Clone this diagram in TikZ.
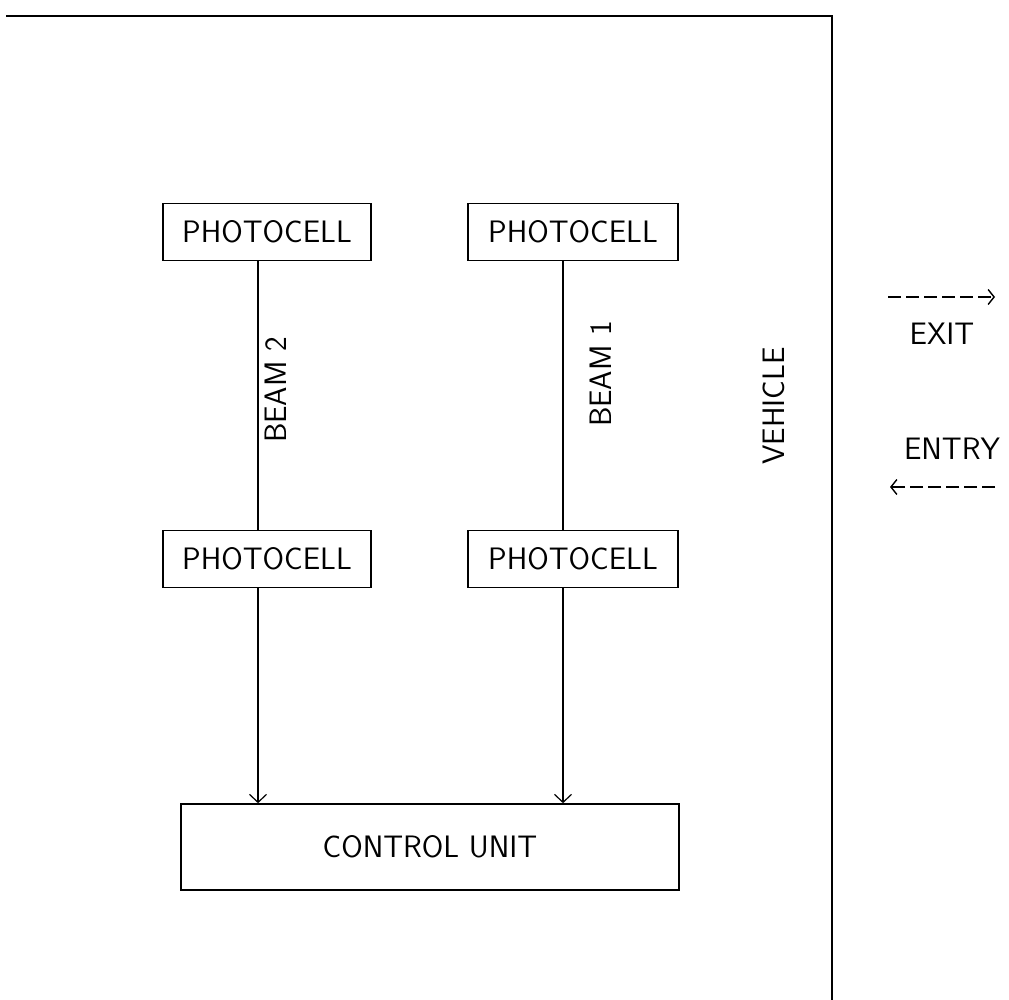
\documentclass[tikz,border=0pt]{standalone}
\usetikzlibrary{arrows.meta}
\begin{document}
\begin{tikzpicture}[x=1pt,y=-1pt,
  lbl/.style={font=\sffamily\fontsize{31}{32}\selectfont, inner sep=0pt},
  box/.style={draw, line width=1.6pt, minimum height=57pt, inner sep=0pt, lbl},
  beam/.style={line width=1.2pt},
  feed/.style={line width=1.2pt, -{Straight Barb[length=8pt,width=17pt,line width=1.2pt]}},
  dir/.style={line width=1.5pt, dash pattern=on 13pt off 5pt, -{Straight Barb[length=6pt,width=15pt,line width=1.4pt]}}]
\useasboundingbox (0,0) rectangle (1009,1000);
% frame
\draw[line width=2.4pt] (6,16) -- (832,16) -- (832,1000);
% photocells
\node[box, minimum width=208pt] (tl) at (267,232) {PHOTOCELL};
\node[box, minimum width=210pt] (tr) at (573,232) {PHOTOCELL};
\node[box, minimum width=208pt] (bl) at (267,559) {PHOTOCELL};
\node[box, minimum width=210pt] (br) at (573,559) {PHOTOCELL};
\node[box, minimum width=498pt, minimum height=86pt] (cu) at (430,847) {CONTROL UNIT};
% line positions
\coordinate (xl) at (258,0);
\coordinate (xr) at (563,0);
\draw[beam] (tl.south -| xl) -- (bl.north -| xl);
\draw[beam] (tr.south -| xr) -- (br.north -| xr);
\draw[feed] (bl.south -| xl) -- (cu.north -| xl);
\draw[feed] (br.south -| xr) -- (cu.north -| xr);
% labels
\node[lbl, rotate=90] (b2) at (276,390) {BEAM 2};
\node[lbl, rotate=90] (b1) at (601,374) {BEAM 1};
\node[lbl, rotate=90] (veh) at (774,406) {VEHICLE};
% exit / entry
\coordinate (ex0) at (888,297);
\coordinate (ex1) at (995,297);
\draw[dir] (ex0) -- (ex1);
\node[lbl] (exit) at (942,334) {EXIT};
\node[lbl] (entry) at (952,449) {ENTRY};
\coordinate (en0) at (995,487);
\coordinate (en1) at (890,487);
\draw[dir] (en0) -- (en1);
\end{tikzpicture}
\end{document}
